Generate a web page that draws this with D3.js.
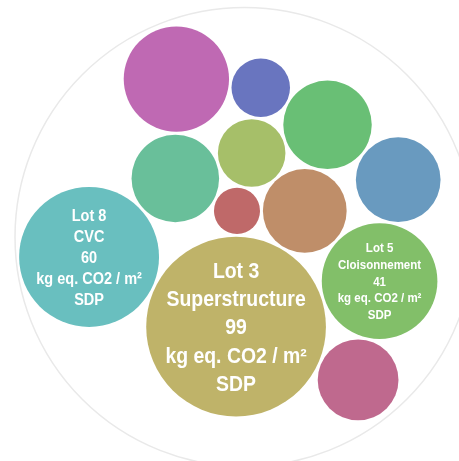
<!DOCTYPE html>
<html>
<head>
<meta charset="utf-8">
<script src="https://cdn.jsdelivr.net/npm/d3@7"></script>
<style>
  body { margin: 0; background: #fff; }
  svg { display: block; }
  .label {
    font-family: "Liberation Sans", Arial, sans-serif;
    font-weight: bold;
    fill: #fff;
  }
</style>
</head>
<body>
<svg id="chart" width="459" height="461"></svg>
<script>
// lots in input order (pack is not sorted, order drives the layout)
const lots = [1, 2, 3, 4, 5, 6, 7, 8, 9, 10, 13, 14];
const lotNames = ["", "", "Superstructure", "", "Cloisonnement", "", "", "CVC", "", "", "", ""];
const values = [6.5, 21.5, 99, 14, 41, 24, 23.5, 60, 22, 10.5, 34, 20];
const unitLines = ["kg eq. CO2 / m²", "SDP"];
const lotCount = 14;

const svg = d3.select('#chart');
const size = 454;
const center = [242, 237.5];
const ringShift = [2.5, -0.5];
const ringPad = 2.5;

const data = lots.map((lot, i) => ({ lot: lot, name: lotNames[i], value: values[i] }));

const root = d3.hierarchy({ children: data })
  .sum(d => d.value || 0);

d3.pack()
  .size([size, size])
  .padding(3)(root);

const color = lot => d3.hsl((lot - 1) * 360 / lotCount, 0.4, 0.58).toString();

const defs = svg.append('defs');
defs.append('filter')
  .attr('id', 'soft')
  .append('feGaussianBlur')
  .attr('stdDeviation', 0.55);

const g = svg.append('g')
  .attr('transform', `translate(${center[0] - root.x},${center[1] - root.y})`);

// outer ring
g.append('circle')
  .attr('cx', root.x + ringShift[0])
  .attr('cy', root.y + ringShift[1])
  .attr('r', root.r + ringPad)
  .attr('fill', 'none')
  .attr('stroke', '#e9e9e9')
  .attr('stroke-width', 1.5);

const leaves = root.leaves();

const node = g.selectAll('.bubble')
  .data(leaves)
  .enter()
  .append('g')
  .attr('class', 'bubble')
  .attr('filter', 'url(#soft)')
  .attr('transform', d => `translate(${d.x},${d.y})`);

node.append('circle')
  .attr('r', d => d.r)
  .attr('fill', d => color(d.data.lot));

// labels only for the named lots, font size follows bubble radius
const labelled = leaves.filter(d => d.data.name);
const fontScale = d3.scaleLinear()
  .domain(d3.extent(labelled, d => d.r))
  .range([12.8, 21.6]);

node.filter(d => d.data.name)
  .each(function(d) {
    const lines = [`Lot ${d.data.lot}`, d.data.name, String(d.data.value)].concat(unitLines);
    const fs = fontScale(d.r);
    const lh = fs * 1.3;
    const y0 = -lh * (lines.length - 1) / 2;

    const text = d3.select(this).append('text')
      .attr('class', 'label')
      .attr('text-anchor', 'middle')
      .attr('transform', 'scale(0.9,1)')
      .style('font-size', fs + 'px');

    text.selectAll('tspan')
      .data(lines)
      .enter()
      .append('tspan')
      .attr('x', 0)
      .attr('y', (t, i) => y0 + i * lh)
      .attr('dy', '0.36em')
      .text(t => t);
  });
</script>
</body>
</html>
